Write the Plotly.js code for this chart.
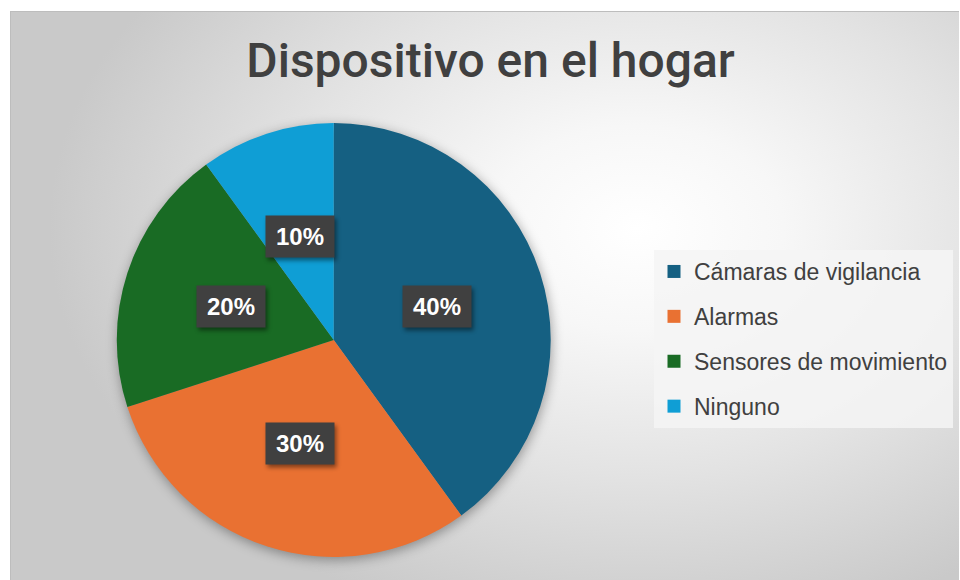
<!DOCTYPE html>
<html>
<head>
<meta charset="utf-8">
<script src="https://cdn.plot.ly/plotly-3.0.1.min.js"></script>
<style>
  html, body { margin: 0; padding: 0; background: #ffffff; }
  #frame {
    position: absolute; left: 10px; top: 11px; width: 948px; height: 569px;
    border-left: 1px solid #bdbdbd; border-top: 1px solid #bdbdbd;
    background: radial-gradient(ellipse 62% 72% at 66% 38%, #ffffff 0%, #f7f7f7 25%, #e3e3e3 60%, #c9c9c9 100%);
  }
  #chart { position: absolute; left: 0; top: 0; width: 960px; height: 580px; }
  .pielayer { filter: drop-shadow(1px 3px 6px rgba(0,0,0,0.35)); }
  .annotation-text-g rect.bg { filter: drop-shadow(2px 3px 2px rgba(0,0,0,0.45)); }
</style>
</head>
<body>
<div id="frame"></div>
<div id="chart"></div>
<script>
var categories = ["Cámaras de vigilancia", "Alarmas", "Sensores de movimiento", "Ninguno"];
var values = [40, 30, 20, 10];
var colors = ["#156082", "#E97132", "#196B24", "#0F9ED5"];
var chartTitle = "Dispositivo en el hogar";

var W = 960, H = 580;
var domX = [0.1216, 0.5737];
var domY = [0.0397, 0.7879];

var total = values.reduce(function (a, b) { return a + b; }, 0);
var rPx = Math.min((domX[1] - domX[0]) * W, (domY[1] - domY[0]) * H) / 2;
var cx = (domX[0] + domX[1]) / 2, cy = (domY[0] + domY[1]) / 2;

var annotations = [];
var cum = 0;
values.forEach(function (v, i) {
  var mid = (cum + v / 2) / total * 2 * Math.PI;
  cum += v;
  annotations.push({
    xref: "paper", yref: "paper",
    x: cx + 0.5 * rPx * Math.sin(mid) / W,
    y: cy + 0.5 * rPx * Math.cos(mid) / H,
    xanchor: "center", yanchor: "middle",
    text: Math.round(v / total * 100) + "%",
    showarrow: false,
    bgcolor: "#404040",
    width: 68, height: 41, borderpad: 0,
    font: { family: "Liberation Sans, Arial, sans-serif", size: 24, color: "#ffffff", weight: "bold" }
  });
});

var traces = [{
  type: "pie",
  labels: categories,
  values: values,
  sort: false,
  direction: "clockwise",
  rotation: 0,
  marker: { colors: colors, line: { width: 0 } },
  textinfo: "none",
  hoverinfo: "label+percent",
  showlegend: false,
  domain: { x: domX, y: domY }
}];

categories.forEach(function (c, i) {
  traces.push({
    type: "scatter", mode: "markers",
    x: [null], y: [null],
    name: c, legendgroup: "g" + i,
    marker: { symbol: "square", size: 13, color: colors[i] },
    hoverinfo: "skip"
  });
});

var layout = {
  width: W, height: H,
  margin: { l: 0, r: 0, t: 0, b: 0 },
  paper_bgcolor: "rgba(0,0,0,0)",
  plot_bgcolor: "rgba(0,0,0,0)",
  title: {
    text: chartTitle,
    font: { family: "Roboto, Liberation Sans, Arial, sans-serif", size: 48, color: "#404040", weight: 500 },
    x: 0.511, xanchor: "center",
    y: 1 - 60 / H, yanchor: "middle", yref: "container"
  },
  xaxis: { visible: false },
  yaxis: { visible: false },
  showlegend: true,
  legend: {
    x: 654 / W, xanchor: "left",
    y: 1 - 250 / H, yanchor: "top",
    bgcolor: "rgba(244,244,244,0.85)",
    font: { family: "Liberation Sans, Arial, sans-serif", size: 23, color: "#404040" },
    tracegroupgap: 12,
    itemclick: false, itemdoubleclick: false
  },
  annotations: annotations
};

Plotly.newPlot("chart", traces, layout, { displayModeBar: false, staticPlot: true });
</script>
</body>
</html>
